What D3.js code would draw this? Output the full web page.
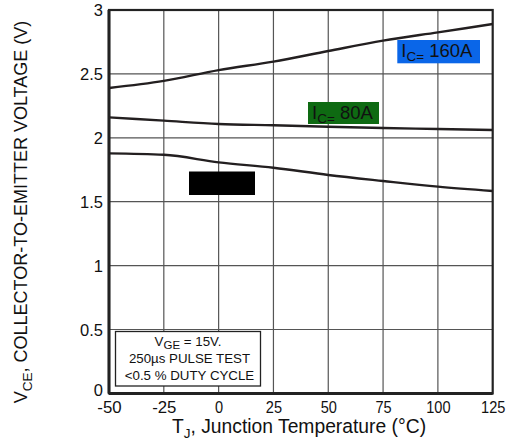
<!DOCTYPE html>
<html><head><meta charset="utf-8">
<script src="https://cdn.jsdelivr.net/npm/d3@7"></script>
<style>body{margin:0;background:#fff}svg{display:block;font-family:"Liberation Sans",Arial,sans-serif}</style>
</head><body><svg id="c" width="508" height="442"></svg>
<script>
const temps = [-50, -25, 0, 25, 50, 75, 100, 125];
const vce160 = [2.39, 2.445, 2.53, 2.596, 2.679, 2.76, 2.825, 2.89];
const vce80 = [2.16, 2.134, 2.108, 2.098, 2.087, 2.077, 2.069, 2.061];
const vce40 = [1.878, 1.867, 1.808, 1.766, 1.709, 1.662, 1.618, 1.584];
const xTicks = [-50, -25, 0, 25, 50, 75, 100, 125];
const xTickLabels = ["-50", "-25", "0", "25", "50", "75", "100", "125"];
const yTicks = [0, 0.5, 1, 1.5, 2, 2.5, 3];
const yTickLabels = ["0", "0.5", "1", "1.5", "2", "2.5", "3"];
const noteLines = ["250µs PULSE TEST", "<0.5 % DUTY CYCLE"];

const svg = d3.select("#c");
const x = d3.scaleLinear().domain([-50, 125]).range([109, 492.7]);
const y = d3.scaleLinear().domain([0, 3]).range([393.4, 10]);

// grid
svg.append("g").selectAll("line").data(xTicks.slice(1, -1)).join("line")
  .attr("x1", d => x(d)).attr("x2", d => x(d)).attr("y1", y(3)).attr("y2", y(0))
  .attr("stroke", "#555").attr("stroke-width", 1.2);
svg.append("g").selectAll("line").data(yTicks.slice(1, -1)).join("line")
  .attr("y1", d => y(d)).attr("y2", d => y(d)).attr("x1", x(-50)).attr("x2", x(125))
  .attr("stroke", "#555").attr("stroke-width", 1.2);

// frame
svg.append("rect").attr("x", x(-50)).attr("y", y(3)).attr("width", x(125) - x(-50)).attr("height", y(0) - y(3))
  .attr("fill", "none").attr("stroke", "#222").attr("stroke-width", 2.2);
svg.append("line").attr("x1", x(-50)).attr("x2", x(-50)).attr("y1", y(3)).attr("y2", y(0)).attr("stroke", "#222").attr("stroke-width", 3);
svg.append("line").attr("x1", x(-50)).attr("x2", x(125)).attr("y1", y(0)).attr("y2", y(0)).attr("stroke", "#222").attr("stroke-width", 3);

// axes (labels only)
const xAxis = d3.axisBottom(x).tickValues(xTicks).tickFormat((d, i) => xTickLabels[i]).tickSize(0).tickPadding(0);
const gx = svg.append("g").attr("transform", `translate(0,${y(0)})`).call(xAxis);
gx.select(".domain").remove();
gx.selectAll("text").attr("font-size", 16.5).attr("fill", "#111").attr("dy", null).attr("y", 20)
  .attr("textLength", (d, i) => xTickLabels[i].length * 8.1).attr("lengthAdjust", "spacingAndGlyphs");

const yAxis = d3.axisLeft(y).tickValues(yTicks).tickFormat((d, i) => yTickLabels[i]).tickSize(0).tickPadding(0);
const gy = svg.append("g").attr("transform", `translate(103,0)`).call(yAxis);
gy.select(".domain").remove();
gy.selectAll("text").attr("font-size", 16.5).attr("fill", "#111").attr("x", 0)
  .attr("dy", d => d === 0 ? "0.1em" : "0.36em");

// curves
const line = d3.line().x((d, i) => x(temps[i])).y(d => y(d)).curve(d3.curveMonotoneX);
[vce160, vce80, vce40].forEach(s => {
  svg.append("path").attr("d", line(s)).attr("fill", "none").attr("stroke", "#231f20").attr("stroke-width", 2.4);
});

// labels
function icLabel(xx, yy, w, h, color, val) {
  svg.append("rect").attr("x", xx).attr("y", yy).attr("width", w).attr("height", h).attr("fill", color);
  const t = svg.append("text").attr("x", xx + 4).attr("y", yy + 17).attr("font-size", 18.5).attr("fill", "#111");
  t.append("tspan").text("I");
  t.append("tspan").attr("font-size", 13.5).attr("dy", 4).text("C=");
  t.append("tspan").attr("dy", -4).text(" " + val);
}
icLabel(397.3, 40, 82.7, 23.3, "#0a66e8", "160A");
icLabel(308, 102, 71, 22, "#0e6a12", "80A");
svg.append("rect").attr("x", 189).attr("y", 171.5).attr("width", 66).attr("height", 23.5).attr("fill", "#000");

// note box
svg.append("rect").attr("x", 115.5).attr("y", 331.5).attr("width", 145).attr("height", 54.5)
  .attr("fill", "#fff").attr("stroke", "#222").attr("stroke-width", 1.3);
const n1 = svg.append("text").attr("x", 188).attr("y", 346).attr("text-anchor", "middle").attr("font-size", 13.3).attr("fill", "#111");
n1.append("tspan").text("V");
n1.append("tspan").attr("font-size", 11.5).attr("dy", 3).text("GE");
n1.append("tspan").attr("dy", -3).text(" = 15V.");
noteLines.forEach((s, i) => {
  svg.append("text").attr("x", 189.5).attr("y", 363 + i * 16.5).attr("text-anchor", "middle")
    .attr("font-size", 13.3).attr("fill", "#111").text(s);
});

// axis titles
const xt = svg.append("text").attr("x", 299).attr("y", 433).attr("text-anchor", "middle").attr("font-size", 19.3).attr("fill", "#111");
xt.append("tspan").text("T");
xt.append("tspan").attr("font-size", 13.5).attr("dy", 5).text("J");
xt.append("tspan").attr("dy", -5).text(", Junction Temperature (°C)");

const yt = svg.append("text").attr("transform", "translate(27,212) rotate(-90)").attr("text-anchor", "middle").attr("font-size", 18).attr("fill", "#111");
yt.append("tspan").text("V");
yt.append("tspan").attr("font-size", 13.5).attr("dy", 5).text("CE");
yt.append("tspan").attr("dy", -5).text(", COLLECTOR-TO-EMITTER VOLTAGE (V)");
</script></body></html>
